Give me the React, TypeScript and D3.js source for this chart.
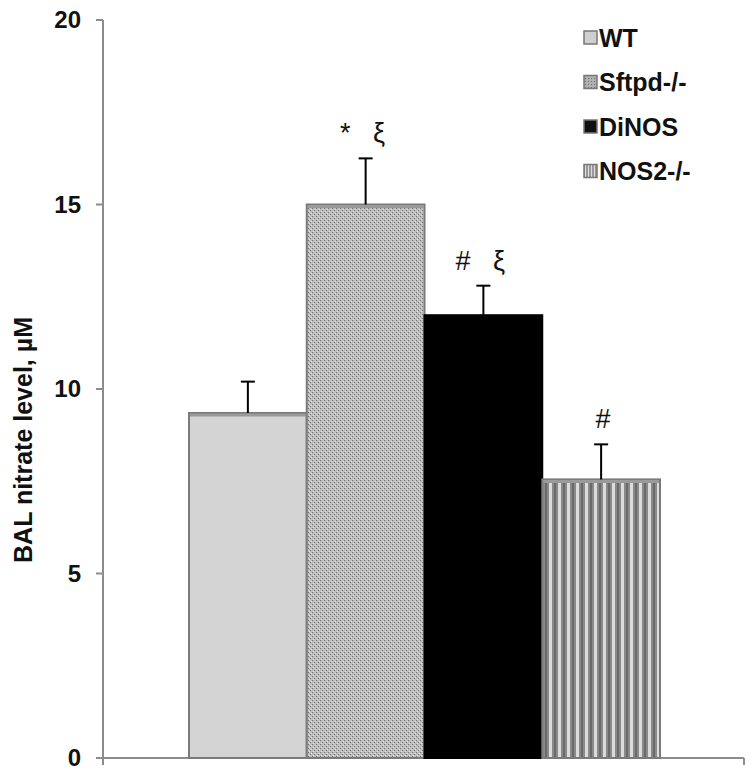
import React from "react";
import * as d3 from "d3";

const categories = ["WT", "Sftpd-/-", "DiNOS", "NOS2-/-"];
const means = [9.35, 15.0, 12.0, 7.55];
const errors = [0.85, 1.25, 0.8, 0.95];
const annotations = ["", "*   ξ", "#   ξ", "#"];
const yTicks = [0, 5, 10, 15, 20];

const W = 752, H = 773;
const left = 103, right = 744, top = 20, bottom = 758;

export default function App() {
  const y = d3.scaleLinear().domain([0, 20]).range([bottom, top]);
  const x = d3.scaleBand<string>().domain(categories).range([189, 660]).paddingInner(0).paddingOuter(0);
  const fills = ["#d4d4d4", "url(#dots)", "#000000", "url(#stripes)"];
  const legendFills = ["#cfcfcf", "url(#dotsL)", "#111", "url(#stripesL)"];
  const font = "Liberation Sans, Arial, sans-serif";
  return (
    <svg width={W} height={H} style={{ position: "absolute", left: 0, top: 0, background: "#fff" }}>
      <defs>
        <pattern id="dots" width="4" height="4" patternUnits="userSpaceOnUse">
          <rect width="4" height="4" fill="#bdbdbd" />
          <rect x="0" y="0" width="1" height="1" fill="#6e6e6e" />
          <rect x="2" y="2" width="1" height="1" fill="#6e6e6e" />
          <rect x="1" y="3" width="1" height="1" fill="#e6e6e6" />
          <rect x="3" y="1" width="1" height="1" fill="#e6e6e6" />
        </pattern>
        <pattern id="stripes" width="9" height="4" patternUnits="userSpaceOnUse">
          <rect width="9" height="4" fill="#8a8a8a" />
          <rect x="0" width="3" height="4" fill="#dcdcdc" />
          <rect x="5" width="2" height="4" fill="#6a6a6a" />
        </pattern>
        <pattern id="dotsL" width="3" height="3" patternUnits="userSpaceOnUse">
          <rect width="3" height="3" fill="#b0b0b0" />
          <rect width="1" height="1" fill="#707070" />
        </pattern>
        <pattern id="stripesL" width="3" height="3" patternUnits="userSpaceOnUse">
          <rect width="3" height="3" fill="#999" />
          <rect width="1" height="3" fill="#ddd" />
        </pattern>
      </defs>
      {/* axes */}
      <line x1={left} x2={left} y1={top} y2={bottom + 7} stroke="#8c8c8c" strokeWidth={2} />
      <line x1={left} x2={right} y1={bottom} y2={bottom} stroke="#8c8c8c" strokeWidth={2} />
      <line x1={right} x2={right} y1={bottom} y2={bottom + 7} stroke="#8c8c8c" strokeWidth={2} />
      {yTicks.map((t) => (
        <g key={t}>
          <line x1={left - 7} x2={left} y1={y(t)} y2={y(t)} stroke="#8c8c8c" strokeWidth={2} />
          <text x={81} y={y(t)} dy="0.35em" textAnchor="end" fontFamily={font} fontWeight="bold" fontSize={24} fill="#111">
            {t}
          </text>
        </g>
      ))}
      <text transform={`translate(32,${440}) rotate(-90)`} textAnchor="middle" fontFamily={font} fontWeight="bold" fontSize={25} fill="#111">
        BAL nitrate level, µM
      </text>
      {/* bars */}
      {categories.map((c, i) => {
        const bx = x(c)!;
        const bw = x.bandwidth();
        const yt = y(means[i]);
        const cx = bx + bw / 2;
        return (
          <g key={c}>
            <rect x={bx} y={yt} width={bw} height={bottom - yt} fill={fills[i]} stroke={i === 2 ? "#000" : "#7a7a7a"} strokeWidth={2} />
            <line x1={bx + 1} x2={bx + bw - 1} y1={yt + 2} y2={yt + 2} stroke={i === 2 ? "#000" : "#9a9a9a"} strokeWidth={3} />
            <line x1={cx} x2={cx} y1={y(means[i] + errors[i])} y2={yt} stroke="#000" strokeWidth={2} />
            <line x1={cx - 7} x2={cx + 7} y1={y(means[i] + errors[i])} y2={y(means[i] + errors[i])} stroke="#000" strokeWidth={2} />
            {annotations[i] && (
              <text x={annotations[i].length > 1 ? cx - 3 : cx + 2} y={y(means[i] + errors[i]) - 16} textAnchor="middle" fontFamily={font} fontSize={27} fill="#111" style={{ whiteSpace: "pre" }}>
                {annotations[i]}
              </text>
            )}
          </g>
        );
      })}
      {/* legend */}
      {categories.map((c, i) => {
        const ly = 38 + i * 44.5;
        return (
          <g key={c}>
            <rect x={584} y={ly - 7} width={13} height={13} fill={legendFills[i]} stroke="#777" strokeWidth={1.5} />
            <text x={599} y={ly} dy="0.35em" fontFamily={font} fontWeight="bold" fontSize={25} fill="#111">
              {c}
            </text>
          </g>
        );
      })}
    </svg>
  );
}
